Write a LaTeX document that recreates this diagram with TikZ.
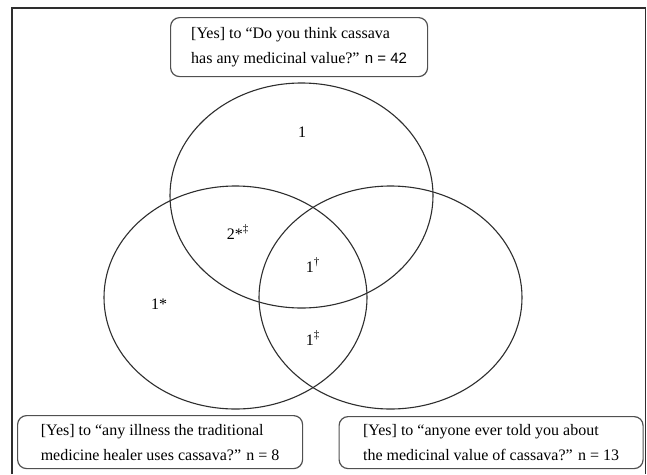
\documentclass[tikz,border=0pt]{standalone}
\usepackage{fontspec}
\setmainfont{Liberation Serif}
\newfontfamily\sansn{Liberation Sans}
\definecolor{linec}{HTML}{2E2E2E}
\definecolor{boxc}{HTML}{505050}
\begin{document}
\begin{tikzpicture}[x=1pt,y=-1pt,
  venn/.style={draw=linec,line width=1.1pt},
  qbox/.style={draw=boxc,line width=1.2pt,rounded corners=9pt,anchor=north west,
     align=left,inner sep=0pt,font=\fontsize{16}{25}\selectfont},
  num/.style={font=\fontsize{16}{19}\selectfont,inner sep=0pt}]
\useasboundingbox (0,0) rectangle (647,474);
\fill[white] (0,0) rectangle (647,474);
\draw[draw=linec,line width=1.4pt] (12,474) -- (12,8) -- (645.5,8) -- (645.5,474);
% ellipses
\draw[venn] (301.5,195.5) ellipse [x radius=131.5, y radius=112.5];
\draw[venn] (235.5,297.5) ellipse [x radius=131.5, y radius=111.5];
\draw[venn] (390.5,297.5) ellipse [x radius=131.5, y radius=111.5];
% boxes
\node[qbox,minimum width=257pt,minimum height=59pt] (qa) at (170,17)
  {[Yes] to “Do you think cassava\\has any medicinal value?” {\sansn\fontsize{15}{25}\selectfont n = 42}};
\node[qbox,minimum width=285pt,minimum height=53pt] (qb) at (17,415)
  {[Yes] to “any illness the traditional\\medicine healer uses cassava?” n = 8};
\node[qbox,minimum width=304pt,minimum height=52pt] (qc) at (338.5,416)
  {[Yes] to “anyone ever told you about\\the medicinal value of cassava?” n = 13};
% counts
\node[num] (r1) at (302,132) {1};
\node[num] (r2) at (238,232) {2*\textsuperscript{‡}};
\node[num] (r3) at (313,265) {1\textsuperscript{†}};
\node[num] (r4) at (159,304) {1*};
\node[num] (r5) at (313,338) {1\textsuperscript{‡}};
\end{tikzpicture}
\end{document}
